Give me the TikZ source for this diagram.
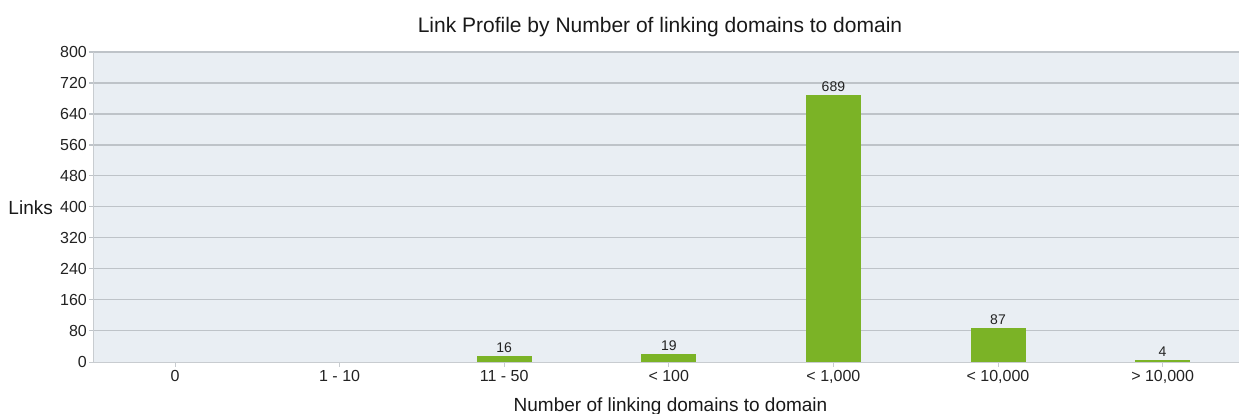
\documentclass[tikz,border=0pt]{standalone}
\usepackage{fontspec}
\setmainfont{Liberation Sans}
\definecolor{plotbg}{RGB}{233,238,243}
\definecolor{gridc}{RGB}{190,195,200}
\definecolor{axisc}{RGB}{200,204,208}
\definecolor{barc}{RGB}{123,179,38}
\definecolor{txt}{RGB}{34,34,34}
\begin{document}
\begin{tikzpicture}[x=1pt,y=-1pt,
  gridline/.style={draw=gridc,line width=1.2pt},
  axisline/.style={draw=axisc,line width=1pt},
  tickmark/.style={draw=axisc,line width=1pt},
  bar/.style={fill=barc},
  ylab/.style={anchor=east,inner sep=0pt,text=txt,font=\fontsize{16}{19}\selectfont},
  xlab/.style={anchor=base,inner sep=0pt,text=txt,font=\fontsize{16}{19}\selectfont},
  vallab/.style={anchor=base,inner sep=0pt,text=txt,font=\fontsize{14}{17}\selectfont},
  ttl/.style={anchor=base,inner sep=0pt,text=black!90,font=\fontsize{21}{25}\selectfont},
  axttl/.style={anchor=base,inner sep=0pt,text=black!90,font=\fontsize{19}{23}\selectfont}]
\useasboundingbox (0,0) rectangle (1239,414);
\clip (0,0) rectangle (1239,414);

% plot area
\fill[plotbg] (93,52) rectangle (1250,362);

% horizontal grid with value labels
\foreach \v in {80,160,...,800}{
  \draw[gridline] (89,{361.7-0.38713*\v}) -- (1250,{361.7-0.38713*\v});
  \node[ylab] (y\v) at (87,{361.7-0.38713*\v}) {\v};
}
\node[ylab] (y0) at (87,361.7) {0};

% axes
\draw[axisline] (93,52) -- (93,362);
\draw[axisline] (89,362) -- (1250,362);

% categories
\foreach \i/\lab in {0/0,1/1 - 10,2/11 - 50,3/< 100,4/< 1{,}000,5/< 10{,}000,6/> 10{,}000}{
  \draw[tickmark] ({175+164.6*\i},362) -- ({175+164.6*\i},367);
  \node[xlab] (x\i) at ({175+164.6*\i},381.5) {\lab};
}

% bars with value labels
\foreach \i/\v in {2/16,3/19,4/689,5/87,6/4}{
  \fill[bar] ({175+164.6*\i-27.5},{min(361.7-0.38713*\v,360)}) rectangle ({175+164.6*\i+27.5},362);
  \node[vallab] (v\i) at ({175+164.6*\i},{min(361.7-0.38713*\v,360)-3.5}) {\v};
}

% titles
\node[ttl] (title) at (660,33) {Link Profile by Number of linking domains to domain};
\node[axttl] (xtitle) at (670.5,411) {Number of linking domains to domain};
\node[anchor=base west,inner sep=0pt,text=black!90,font=\fontsize{19}{23}\selectfont] (ytitle) at (8.3,214.5) {Links};
\end{tikzpicture}
\end{document}
